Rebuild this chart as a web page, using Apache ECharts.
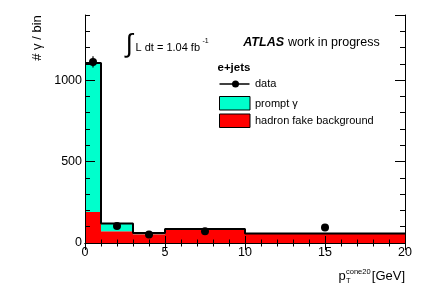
<!DOCTYPE html>
<html><head><meta charset="utf-8">
<script src="https://cdn.jsdelivr.net/npm/echarts@6/dist/echarts.min.js"></script>
<style>html,body{margin:0;padding:0;background:#fff}#c{width:427px;height:290px}</style>
</head><body><div id="c"></div>
<script>
// ---- data ----
const binEdges = [0, 1, 3, 5, 10, 20];
const hadronFake = [191, 72, 54, 83, 55];
const promptGamma = [915, 48, 8, 3, 3];
const dataX = [0.5, 2, 4, 7.5, 15];
const dataY = [1112, 105, 52, 72, 95];
const dataErr = [35, 10, 7, 9, 10];
const xRange = [0, 20];
const yRange = [0, 1400];

const FONT = "'Liberation Sans', Arial, Helvetica, sans-serif";
const CYAN = '#00ffcc', RED = '#ff0000';

const redRects = hadronFake.map((v, i) => [binEdges[i], binEdges[i + 1], 0, v]);
const cyanRects = promptGamma.map((v, i) => [binEdges[i], binEdges[i + 1], hadronFake[i], hadronFake[i] + v]);
const totals = hadronFake.map((v, i) => v + promptGamma[i]);
const stepData = binEdges.map((e, i) => [e, totals[Math.min(i, totals.length - 1)]]);
const errData = dataX.map((x, i) => [x, dataY[i] - dataErr[i], dataY[i] + dataErr[i]]);
const pts = dataX.map((x, i) => [x, dataY[i]]);

function rectItem(params, api) {
  const p0 = api.coord([api.value(0), api.value(3)]);
  const p1 = api.coord([api.value(1), api.value(2)]);
  return { type: 'rect', shape: { x: p0[0], y: p0[1], width: p1[0] - p0[0], height: p1[1] - p0[1] },
           style: { fill: api.visual('color') } };
}
function errItem(params, api) {
  const a = api.coord([api.value(0), api.value(1)]);
  const b = api.coord([api.value(0), api.value(2)]);
  return { type: 'line', shape: { x1: a[0], y1: a[1], x2: b[0], y2: b[1] }, style: { stroke: '#000', lineWidth: 1.2 } };
}

const axLine = { show: true, lineStyle: { color: '#000', width: 1 } };
function xAx(pos, labels) {
  return { type: 'value', position: pos, min: xRange[0], max: xRange[1], interval: 5, z: 10,
    axisLine: axLine, splitLine: { show: false },
    axisTick: { show: true, inside: true, length: 7, lineStyle: { color: '#000' } },
    minorTick: { show: true, splitNumber: 5, length: 3.5, lineStyle: { color: '#000' } },
    axisLabel: { show: labels, margin: 3, color: '#000', fontFamily: FONT, fontSize: 12.5, formatter: v => String(v) } };
}
function yAx(pos, interval, len, labels, line) {
  return { type: 'value', position: pos, min: yRange[0], max: yRange[1], interval: interval, z: 10,
    axisLine: line ? axLine : { show: false }, splitLine: { show: false },
    axisTick: { show: true, inside: true, length: len, lineStyle: { color: '#000' } },
    axisLabel: { show: labels, margin: 3, color: '#000', fontFamily: FONT, fontSize: 12.5, showMaxLabel: false, formatter: v => String(v) } };
}

const chart = echarts.init(document.getElementById('c'), null, { renderer: 'canvas' });
chart.setOption({
  animation: false,
  backgroundColor: '#fff',
  grid: { left: 85, top: 15, right: 22, bottom: 47 },
  xAxis: [xAx('bottom', true), xAx('top', false)],
  yAxis: [yAx('left', 500, 10, true, true), yAx('left', 100, 5, false, false),
          yAx('right', 500, 10, false, true), yAx('right', 100, 5, false, false)],
  series: [
    { type: 'custom', renderItem: rectItem, data: redRects, itemStyle: { color: RED }, encode: { x: [0, 1], y: [2, 3] }, z: 2 },
    { type: 'custom', renderItem: rectItem, data: cyanRects, itemStyle: { color: CYAN }, encode: { x: [0, 1], y: [2, 3] }, z: 2 },
    { type: 'line', step: 'end', data: stepData, symbol: 'none', lineStyle: { color: '#000', width: 2 }, z: 3 },
    { type: 'custom', renderItem: errItem, data: errData, encode: { x: 0, y: [1, 2] }, z: 4 },
    { type: 'scatter', data: pts, symbol: 'circle', symbolSize: 8, itemStyle: { color: '#000', opacity: 1 }, z: 5 }
  ],
  graphic: [
    // y title
    { type: 'text', x: 37, y: 38, rotation: Math.PI / 2,
      style: { text: '# γ / bin', fill: '#000', font: '13px ' + FONT, align: 'center', verticalAlign: 'middle' } },
    // x title
    { type: 'text', x: 338.5, y: 276, style: { text: 'p', fill: '#000', font: '13px ' + FONT, verticalAlign: 'middle' } },
    { type: 'text', x: 346, y: 271.5, style: { text: 'cone20', fill: '#000', font: '7.5px ' + FONT, verticalAlign: 'middle' } },
    { type: 'text', x: 346, y: 281, style: { text: 'T', fill: '#000', font: '7.5px ' + FONT, verticalAlign: 'middle' } },
    { type: 'text', x: 405, y: 276, style: { text: '[GeV]', fill: '#000', font: '13px ' + FONT, align: 'right', verticalAlign: 'middle' } },
    // luminosity
    { type: 'text', x: 129, y: 44.5, style: { text: '∫', fill: '#000', font: '26px ' + FONT, align: 'center', verticalAlign: 'middle' } },
    { type: 'text', x: 135.5, y: 47.5, style: { text: 'L dt = 1.04 fb', fill: '#000', font: '11px ' + FONT, verticalAlign: 'middle' } },
    { type: 'text', x: 202.5, y: 41, style: { text: '-1', fill: '#000', font: '7px ' + FONT, verticalAlign: 'middle' } },
    // ATLAS
    { type: 'text', x: 284, y: 42.5, style: { text: 'ATLAS', fill: '#000', font: 'italic bold 12.5px ' + FONT, align: 'right', verticalAlign: 'middle' } },
    { type: 'text', x: 288, y: 42.5, style: { text: 'work in progress', fill: '#000', font: '12.5px ' + FONT, verticalAlign: 'middle' } },
    // legend
    { type: 'text', x: 217.5, y: 67.5, style: { text: 'e+jets', fill: '#000', font: 'bold 11.5px ' + FONT, verticalAlign: 'middle' } },
    { type: 'line', shape: { x1: 219.5, y1: 84, x2: 249.5, y2: 84 }, style: { stroke: '#000', lineWidth: 1.5 } },
    { type: 'circle', shape: { cx: 235.5, cy: 84, r: 3.5 }, style: { fill: '#000' } },
    { type: 'text', x: 255, y: 84.3, style: { text: 'data', fill: '#000', font: '11px ' + FONT, verticalAlign: 'middle' } },
    { type: 'rect', shape: { x: 219.5, y: 96.5, width: 30.5, height: 13.5 }, style: { fill: CYAN, stroke: '#000', lineWidth: 1 } },
    { type: 'text', x: 255, y: 103.7, style: { text: 'prompt γ', fill: '#000', font: '11px ' + FONT, verticalAlign: 'middle' } },
    { type: 'rect', shape: { x: 219.5, y: 114, width: 30.5, height: 13.5 }, style: { fill: RED, stroke: '#000', lineWidth: 1 } },
    { type: 'text', x: 255, y: 120.8, style: { text: 'hadron fake background', fill: '#000', font: '11px ' + FONT, verticalAlign: 'middle' } }
  ]
});
</script></body></html>
